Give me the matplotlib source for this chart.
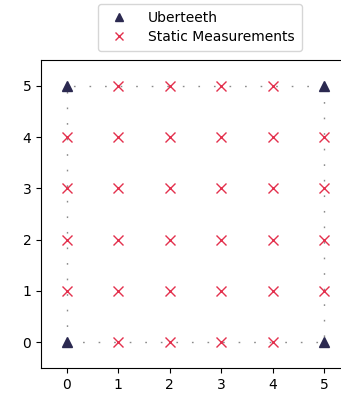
import matplotlib
matplotlib.use("Agg")
import matplotlib.pyplot as plt

# Uberteeth anchor positions (corners of the area)
uber_x = [0, 0, 5, 5]
uber_y = [0, 5, 5, 0]

# Static measurement positions
static_x = [0, 0, 0, 0,
            1, 1, 1, 1, 1, 1,
            2, 2, 2, 2, 2, 2,
            3, 3, 3, 3, 3, 3,
            4, 4, 4, 4, 4, 4,
            5, 5, 5, 5]
static_y = [1, 2, 3, 4,
            0, 1, 2, 3, 4, 5,
            0, 1, 2, 3, 4, 5,
            0, 1, 2, 3, 4, 5,
            0, 1, 2, 3, 4, 5,
            1, 2, 3, 4]

# Borders linking the anchors: (start index, end index)
edges = [(0, 1), (2, 1), (2, 3), (0, 3)]

ticks = [0, 1, 2, 3, 4, 5]

uber_color = "#2b2950"
static_color = "#e3304d"
edge_color = "#8a8a8a"

fig = plt.figure(figsize=(3.41, 3.94), dpi=100)
ax = fig.add_axes([0.1202, 0.066, 0.906, 0.7817])

for a, b in edges:
    ax.plot([uber_x[a], uber_x[b]], [uber_y[a], uber_y[b]],
            color=edge_color, linewidth=1.0, linestyle=(0, (1.2, 10)), zorder=1)

ax.plot(uber_x, uber_y, linestyle="none", marker="^", markersize=7.5,
        color=uber_color, label="Uberteeth", zorder=3)
ax.plot(static_x, static_y, linestyle="none", marker="x", markersize=7,
        markeredgewidth=1.0, color=static_color, label="Static Measurements", zorder=3)

ax.set_xlim(-0.5, 5.5)
ax.set_ylim(-0.5, 5.5)
ax.set_xticks(ticks)
ax.set_yticks(ticks)
ax.tick_params(labelsize=10)

handles, labels = ax.get_legend_handles_labels()
fig.legend(handles, labels, loc="upper center",
           bbox_to_anchor=(200 / 341, 1 - 4 / 394), borderaxespad=0,
           fontsize=10, markerscale=0.8, labelspacing=0.35,
           handletextpad=1.1, borderpad=0.5)

fig.savefig("out.png", dpi=100)
